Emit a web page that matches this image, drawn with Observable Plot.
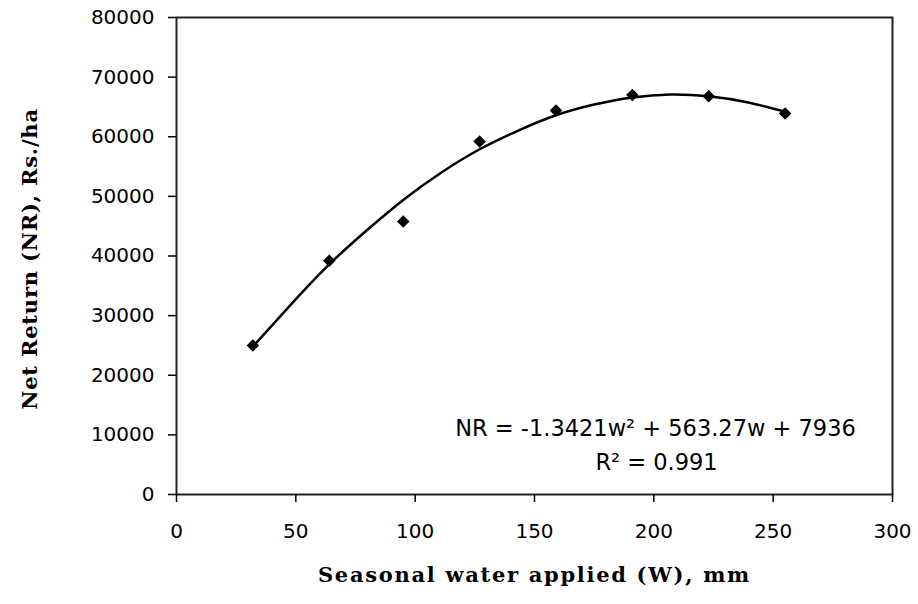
<!DOCTYPE html>
<html><head><meta charset="utf-8">
<script src="https://cdn.jsdelivr.net/npm/d3@7"></script>
<script src="https://cdn.jsdelivr.net/npm/@observablehq/plot@0.6"></script>
<style>
body{margin:0;background:#fff}
#chart svg{display:block}
.xlab text{letter-spacing:1.7px}
.ylab text{letter-spacing:0.8px}
</style>
</head><body><div id="chart"></div>
<script>
// Observed data
const water = [32, 64, 95, 127, 159, 191, 223, 255];
const netReturn = [25000, 39200, 45800, 59200, 64400, 67000, 66800, 63900];
// Trend curve
const trendW = [32, 48, 64, 80, 95, 111, 127, 143, 159, 175, 191, 207, 223, 239, 255];
const trendNR = [24800, 31900, 38600, 44400, 49400, 54000, 57900, 61000, 63600, 65400, 66600, 67100, 66800, 65800, 64200];
const xTicks = [0, 50, 100, 150, 200, 250, 300];
const yTicks = [0, 10000, 20000, 30000, 40000, 50000, 60000, 70000, 80000];
const equationLine1 = "NR = -1.3421w² + 563.27w + 7936";
const equationLine2 = "R² = 0.991";
const xLabel = "Seasonal water applied (W), mm";
const yLabel = "Net Return (NR), Rs./ha";

const points = water.map((w, i) => ({w, nr: netReturn[i]}));
const trend = trendW.map((w, i) => ({w, nr: trendNR[i]}));

const squareDiamond = {
  draw(ctx, size) {
    const h = Math.sqrt(size / 2);
    ctx.moveTo(0, -h); ctx.lineTo(h, 0); ctx.lineTo(0, h); ctx.lineTo(-h, 0); ctx.closePath();
  }
};

const tickFont = "DejaVu Sans";
const labelFont = "DejaVu Serif";

const chart = Plot.plot({
  width: 918,
  height: 604,
  marginLeft: 176,
  marginRight: 26,
  marginTop: 17,
  marginBottom: 110,
  style: {fontFamily: tickFont, fontSize: "20px", color: "#000", background: "#fff"},
  x: {domain: [0, 300]},
  y: {domain: [0, 80000]},
  marks: [
    Plot.frame({stroke: "#222", strokeWidth: 2}),
    Plot.axisX({ticks: xTicks, tickSize: 8, tickPadding: 21, tickFormat: d => String(d), label: null, fontSize: 20, fontFamily: tickFont, strokeWidth: 1.5}),
    Plot.axisY({ticks: yTicks, tickSize: 8, tickPadding: 14, tickFormat: d => String(d), label: null, fontSize: 20, fontFamily: tickFont, strokeWidth: 1.5}),
    Plot.line(trend, {x: "w", y: "nr", curve: "natural", stroke: "#000", strokeWidth: 2.5}),
    Plot.dot(points, {x: "w", y: "nr", symbol: squareDiamond, r: 5, fill: "#000", stroke: "none"}),
    Plot.text([equationLine1], {frameAnchor: "bottom-right", dx: -237, dy: -66, textAnchor: "middle", lineAnchor: "middle", fontSize: 22.5, fontFamily: tickFont, fill: "#000"}),
    Plot.text([equationLine2], {frameAnchor: "bottom-right", dx: -236, dy: -32, textAnchor: "middle", lineAnchor: "middle", fontSize: 22.5, fontFamily: tickFont, fill: "#000"}),
    Plot.text([xLabel], {className: "xlab", frameAnchor: "bottom", dy: 81, textAnchor: "middle", lineAnchor: "middle", fontSize: 21, fontWeight: "bold", fontFamily: labelFont, fill: "#000"}),
    Plot.text([yLabel], {className: "ylab", frameAnchor: "left", dx: -146, dy: 3, rotate: -90, textAnchor: "middle", lineAnchor: "middle", fontSize: 21, fontWeight: "bold", fontFamily: labelFont, fill: "#000"})
  ]
});
document.getElementById("chart").appendChild(chart);
</script>
</body></html>
